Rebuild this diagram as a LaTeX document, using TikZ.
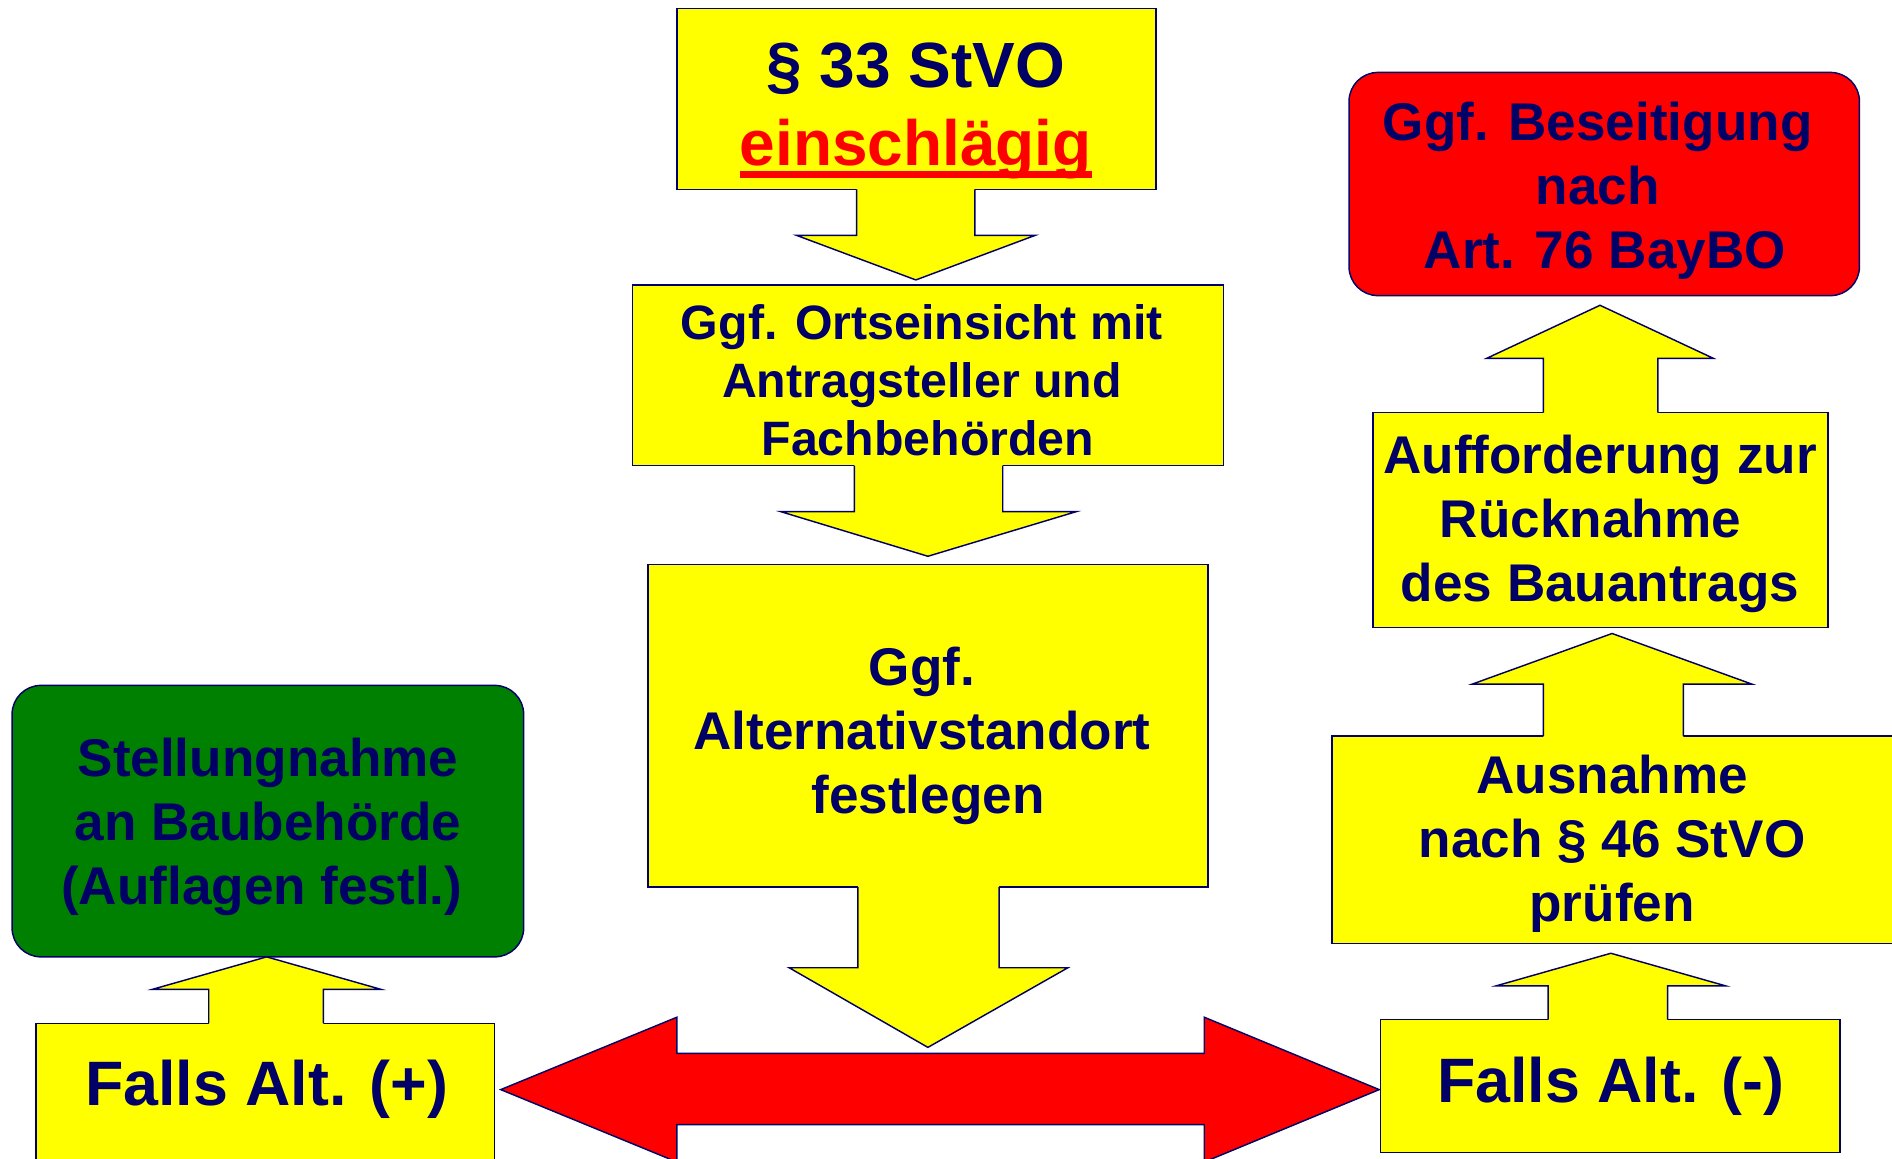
\documentclass[tikz,border=0pt]{standalone}
\usepackage{fontspec}
\setmainfont{Liberation Sans}
\usetikzlibrary{calc,fit}
\definecolor{navy}{RGB}{0,0,102}
\definecolor{ybox}{RGB}{255,255,0}
\definecolor{rbox}{RGB}{255,0,0}
\definecolor{gbox}{RGB}{0,128,0}
\newsavebox\ulbox
\newcommand{\thickul}[1]{\sbox\ulbox{#1}\rlap{\rule[-5.2pt]{\wd\ulbox}{2.6pt}}\usebox\ulbox}
% vertical block arrow: x1,x2 shaft; ybase; yhead; hx1,hx2 head; tipx,tipy
\newcommand{\vblk}[8]{%
  \fill[ybox] ($(#1,#3)!-1pt!(#1,#4)$) -- (#1,#4) -- (#5,#4) -- (#7,#8) -- (#6,#4) -- (#2,#4) -- ($(#2,#3)!-1pt!(#2,#4)$) -- cycle;
  \draw[outl] (#1,#3) -- (#1,#4) -- (#5,#4) -- (#7,#8) -- (#6,#4) -- (#2,#4) -- (#2,#3);}
\begin{document}
\begin{tikzpicture}[x=0.5pt,y=-0.5pt,
  outl/.style={draw=navy,line width=0.6pt,line join=miter},
  ybx/.style={outl,fill=ybox,inner sep=0pt},
  rbx/.style={outl,fill=rbox,inner sep=0pt,rounded corners=12pt},
  gbx/.style={outl,fill=gbox,inner sep=0pt,rounded corners=12pt},
  txt/.style={text=navy,align=center,inner sep=0pt,font=\bfseries\fontsize{22}{26.5}\selectfont},
  txtbig/.style={txt,font=\bfseries\fontsize{26.5}{32}\selectfont},
  txtfalls/.style={txt,font=\bfseries\fontsize{26}{31}\selectfont},
  txtsm/.style={txt,font=\bfseries\fontsize{20}{24}\selectfont}]
\clip (0,0) rectangle (1568,960);
\fill[white] (0,0) rectangle (1568,960);

% boxes
\node[ybx,fit={(561,7) (958,157)}] (b1) {};
\node[ybx,fit={(524,236) (1014,386)}] (b2) {};
\node[ybx,fit={(537,468) (1001,735)}] (b3) {};
\node[gbx,fit={(10,568) (434,793)}] (gr) {};
\node[ybx,fit={(30,848) (410,964)}] (fp) {};
\node[rbx,fit={(1118,60) (1541,245)}] (rd) {};
\node[ybx,fit={(1138,342) (1515,520)}] (au) {};
\node[ybx,fit={(1104,610) (1575,782)}] (an) {};
\node[ybx,fit={(1144,845) (1525,955)}] (fm) {};

% block arrows
\vblk{710}{808}{157}{195}{660}{858}{759}{232}
\vblk{708}{831}{386}{424}{647}{892}{769}{461}
\vblk{711}{828}{735}{802}{654}{885}{769}{868}
\vblk{173}{268}{848}{820}{126}{316}{221}{793}
\vblk{1283}{1382}{845}{817}{1240}{1430}{1335}{790}
\vblk{1279}{1395}{610}{567}{1220}{1452}{1336}{525}
\vblk{1279}{1374}{342}{297}{1232}{1420}{1326}{253}

% double arrow
\coordinate (dl) at (415,903);
\coordinate (dr) at (1143,903);
\draw[outl,fill=rbox] (dl) -- (561,843) -- (561,873) -- (998,873) -- (998,843) -- (dr)
  -- (998,963) -- (998,932) -- (561,932) -- (561,963) -- cycle;

% texts
\node[txtbig] (t1) at (759,92) {§ 33 StVO\\\textcolor{red}{\thickul{einschlägig}}};
\node[txtsm] (t2) at (764,315) {Ggf. Ortseinsicht mit\\Antragsteller und\\\hspace*{5pt}Fachbehörden};
\node[txt] (t3) at (764,610) {Ggf.\\Alternativstandort\\\hspace*{5pt}festlegen};
\node[txt] (t4) at (222,685) {Stellungnahme\\an Baubehörde\\\hbox{(Auflagen festl.)\kern5pt}};
\node[txtfalls] (t5) at (221,903) {Falls Alt. (+)};
\node[txt] (t6) at (1324,158) {Ggf. Beseitigung\\nach\\\hspace*{6pt}Art. 76 BayBO};
\node[txt] (t7) at (1326,434) {Aufforderung zur\\\hbox{Rücknahme\kern8pt}\\des Bauantrags};
\node[txt] (t8) at (1336,699) {Ausnahme\\nach § 46 StVO\\prüfen};
\node[txtfalls] (t9) at (1335,900) {Falls Alt. (-)};
\end{tikzpicture}
\end{document}
